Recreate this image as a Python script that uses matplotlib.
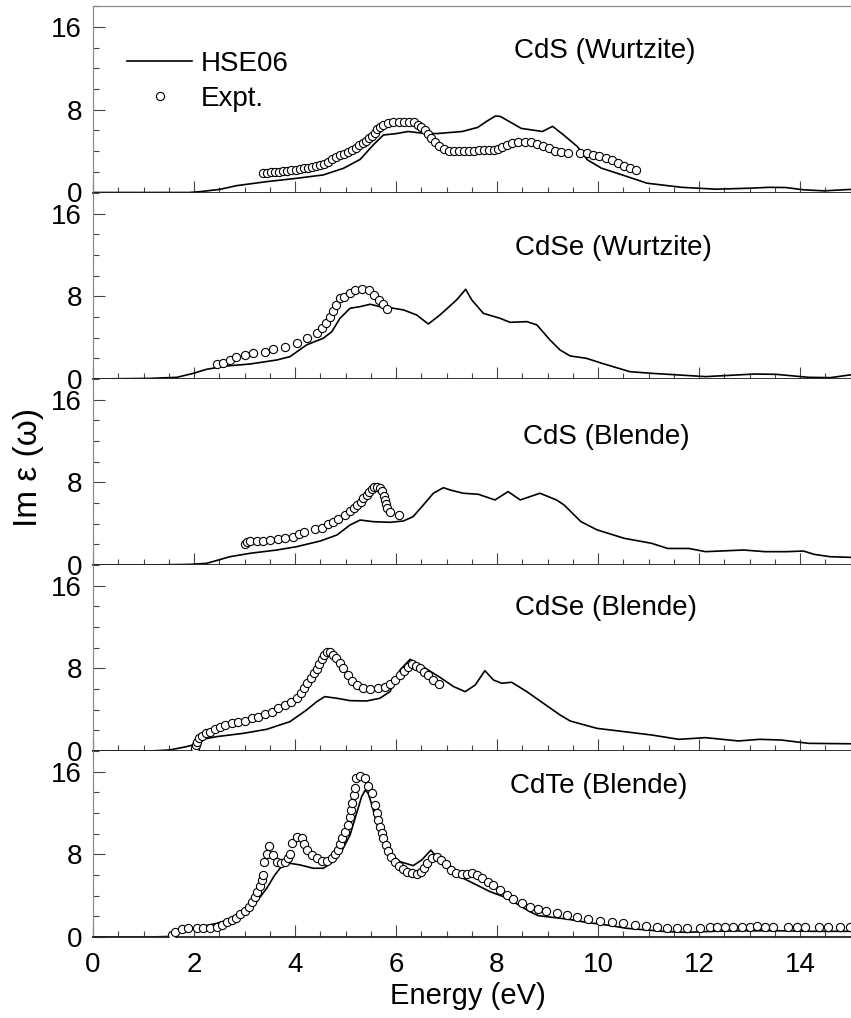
import matplotlib
matplotlib.use("Agg")
import matplotlib.pyplot as plt
from matplotlib.ticker import MultipleLocator

plt.rcParams['font.family'] = ['Liberation Sans', 'DejaVu Sans']

# ---------------- data (energy in eV, Im eps) ----------------
# CdS (Wurtzite)
cds_w_hse_e = [0, 1.9, 2.12, 2.51, 2.84, 3.44, 4.03, 4.56, 4.96, 5.29, 5.55, 5.75, 6.01,
               6.24, 6.41, 6.61, 6.81, 7.31, 7.62, 7.79, 7.97, 8.07, 8.48, 8.9, 9.1, 9.31,
               9.59, 9.79, 10.07, 10.48, 10.97, 11.66, 12.34, 13.03, 13.38, 13.72, 14.07,
               14.48, 15.0]
cds_w_hse_v = [0, 0, 0.08, 0.3, 0.66, 1.05, 1.37, 1.7, 2.34, 3.2, 4.6, 5.56, 5.7,
               5.9, 5.8, 5.7, 5.7, 5.9, 6.3, 6.87, 7.4, 7.35, 6.2, 5.9, 6.4, 5.6,
               4.45, 3.16, 2.35, 1.7, 0.9, 0.5, 0.32, 0.42, 0.5, 0.48, 0.26,
               0.16, 0.3]
cds_w_exp_e = [3.37, 3.45, 3.53, 3.61, 3.69, 3.77, 3.85, 3.93, 4.01, 4.09, 4.17, 4.25, 4.33,
               4.41, 4.49, 4.57, 4.65, 4.73, 4.81, 4.89, 4.97, 5.05, 5.12, 5.2, 5.27, 5.34,
               5.4, 5.46, 5.52, 5.58, 5.63, 5.68, 5.75, 5.85, 5.95, 6.05, 6.15, 6.25, 6.35,
               6.43, 6.5, 6.57, 6.63, 6.7, 6.77, 6.85, 6.95, 7.05, 7.15, 7.25, 7.35, 7.45,
               7.55, 7.65, 7.75, 7.85, 7.95, 8.02, 8.1, 8.2, 8.3, 8.42, 8.55, 8.68, 8.8,
               8.92, 9.03, 9.15, 9.27, 9.4, 9.65, 9.78, 9.9, 10.02, 10.15, 10.28, 10.4,
               10.52, 10.64, 10.76]
cds_w_exp_v = [1.85, 1.9, 1.95, 2.0, 2.03, 2.07, 2.12, 2.17, 2.22, 2.28, 2.34, 2.4, 2.48,
               2.56, 2.66, 2.8, 2.98, 3.2, 3.4, 3.58, 3.72, 3.9, 4.1, 4.35, 4.6, 4.8,
               5.0, 5.3, 5.5, 5.8, 6.1, 6.35, 6.55, 6.7, 6.78, 6.8, 6.8, 6.82, 6.78,
               6.55, 6.3, 6.0, 5.65, 5.25, 4.85, 4.5, 4.2, 4.05, 3.98, 3.97, 3.98, 4.0,
               4.05, 4.1, 4.15, 4.12, 4.08, 4.2, 4.4, 4.6, 4.75, 4.85, 4.9, 4.85, 4.72,
               4.52, 4.3, 4.05, 3.9, 3.82, 3.85, 3.78, 3.65, 3.5, 3.35, 3.1, 2.85,
               2.6, 2.35, 2.15]

# CdSe (Wurtzite)
cdse_w_hse_e = [0, 1.13, 1.66, 1.99, 2.25, 2.65, 3.11, 3.64, 3.9, 4.23, 4.56, 4.73, 4.89,
                5.09, 5.29, 5.49, 5.68, 5.95, 6.15, 6.41, 6.64, 6.87, 7.2, 7.38, 7.5, 7.73,
                8.06, 8.26, 8.59, 8.79, 9.05, 9.25, 9.45, 9.77, 10.09, 10.63, 11.06, 12.13,
                13.1, 13.53, 14.17, 14.6, 15.0]
cdse_w_hse_v = [0, 0.06, 0.16, 0.55, 0.94, 1.26, 1.45, 1.84, 2.16, 3.3, 3.94, 4.58, 5.87,
                6.84, 7.0, 7.23, 7.0, 6.84, 6.68, 6.19, 5.32, 6.19, 7.65, 8.68, 7.65, 6.35,
                5.87, 5.48, 5.55, 5.23, 3.77, 2.8, 2.23, 2.0, 1.5, 0.71, 0.55, 0.23,
                0.48, 0.45, 0.16, 0.13, 0.4]
cdse_w_exp_e = [2.45, 2.58, 2.71, 2.84, 3.01, 3.17, 3.41, 3.57, 3.8, 4.03, 4.23, 4.43, 4.53,
                4.61, 4.69, 4.75, 4.81, 4.89, 4.97, 5.08, 5.19, 5.33, 5.47, 5.56, 5.67,
                5.75, 5.83]
cdse_w_exp_v = [1.45, 1.58, 1.84, 2.1, 2.35, 2.48, 2.65, 2.87, 3.13, 3.45, 3.94, 4.48, 4.94,
                5.45, 6.03, 6.6, 7.16, 7.8, 7.97, 8.29, 8.6, 8.68, 8.6, 8.16, 7.65,
                7.23, 6.74]

# CdS (Blende)
cds_b_hse_e = [0, 1.13, 1.92, 2.25, 2.71, 3.11, 3.64, 4.03, 4.5, 4.83, 5.09, 5.29, 5.55,
               5.88, 6.15, 6.34, 6.54, 6.74, 6.94, 7.07, 7.33, 7.63, 7.96, 8.22, 8.46,
               8.85, 9.18, 9.33, 9.66, 9.98, 10.52, 11.06, 11.38, 11.8, 12.13, 12.88,
               13.31, 13.74, 14.07, 14.28, 14.6, 15.0]
cds_b_hse_v = [0, 0, 0.06, 0.16, 0.8, 1.13, 1.45, 1.77, 2.32, 2.9, 3.87, 4.35, 4.19,
               4.13, 4.26, 4.68, 5.8, 6.94, 7.48, 7.26, 6.94, 6.84, 6.29, 7.1, 6.29,
               6.94, 6.29, 5.8, 4.2, 3.4, 2.58, 2.1, 1.6, 1.6, 1.29, 1.45,
               1.29, 1.29, 1.35, 1.03, 0.8, 0.74]
cds_b_exp_e = [3.0, 3.04, 3.11, 3.24, 3.37, 3.5, 3.67, 3.8, 3.97, 4.07, 4.18, 4.4, 4.53,
               4.66, 4.76, 4.86, 4.99, 5.09, 5.16, 5.22, 5.3, 5.35, 5.42, 5.47, 5.52,
               5.56, 5.62, 5.68, 5.73, 5.77, 5.78, 5.8, 5.83, 5.88, 6.05]
cds_b_exp_v = [2.0, 2.26, 2.32, 2.32, 2.35, 2.42, 2.52, 2.58, 2.74, 2.97, 3.16, 3.45, 3.61,
               3.94, 4.19, 4.45, 4.84, 5.23, 5.48, 5.8, 6.13, 6.45, 6.77, 7.1, 7.35,
               7.55, 7.58, 7.42, 7.16, 6.68, 6.29, 5.87, 5.48, 5.16, 4.84]

# CdSe (Blende)
cdse_b_hse_e = [0, 1.13, 1.52, 1.85, 1.99, 2.02, 2.45, 2.98, 3.44, 3.9, 4.23, 4.43, 4.59,
                4.83, 5.09, 5.42, 5.68, 5.88, 6.08, 6.28, 6.48, 6.74, 6.87, 7.14, 7.37,
                7.57, 7.76, 7.93, 8.09, 8.29, 8.59, 8.92, 9.25, 9.45, 9.98, 10.52, 11.06,
                11.6, 12.13, 12.78, 13.2, 13.63, 14.17, 15.0]
cdse_b_hse_v = [0, 0, 0.1, 0.42, 0.6, 1.0, 1.39, 1.71, 2.1, 2.84, 3.97, 4.77, 5.26,
                5.1, 4.87, 4.84, 5.1, 5.74, 7.84, 8.87, 8.32, 7.52, 7.13, 6.23, 5.74,
                6.39, 7.77, 6.87, 6.55, 6.65, 5.74, 4.61, 3.48, 2.9, 2.19, 1.87, 1.55,
                1.13, 1.29, 0.97, 1.13, 1.06, 0.74, 0.7]
cdse_b_exp_e = [2.02, 2.04, 2.06, 2.09, 2.15, 2.24, 2.32, 2.42, 2.51, 2.61, 2.75, 2.88,
                3.01, 3.14, 3.27, 3.41, 3.54, 3.67, 3.8, 3.93, 4.03, 4.11, 4.18, 4.24,
                4.31, 4.38, 4.43, 4.48, 4.53, 4.57, 4.64, 4.69, 4.75, 4.81, 4.89, 4.96,
                5.04, 5.12, 5.22, 5.35, 5.49, 5.65, 5.78, 5.88, 5.98, 6.07, 6.15, 6.23,
                6.31, 6.4, 6.48, 6.55, 6.64, 6.73, 6.86]
cdse_b_exp_v = [0.3, 0.58, 0.9, 1.23, 1.45, 1.71, 1.87, 2.1, 2.35, 2.52, 2.68, 2.84,
                2.94, 3.16, 3.32, 3.58, 3.81, 4.13, 4.45, 4.77, 5.16, 5.58, 6.06, 6.55,
                7.03, 7.52, 7.94, 8.42, 8.87, 9.29, 9.58, 9.61, 9.29, 8.97, 8.55, 8.0,
                7.35, 6.81, 6.39, 6.13, 6.03, 6.06, 6.23, 6.48, 6.87, 7.35, 7.77, 8.16,
                8.39, 8.23, 8.0, 7.68, 7.35, 6.87, 6.48]

# CdTe (Blende)
cdte_hse_e = [0, 1.13, 1.5, 1.6, 1.8, 2.0, 2.45, 2.78, 3.04, 3.24, 3.44, 3.6, 3.73, 3.9,
              4.1, 4.36, 4.56, 4.76, 4.92, 5.09, 5.22, 5.32, 5.39, 5.45, 5.52, 5.62, 5.75,
              5.88, 6.08, 6.34, 6.51, 6.69, 6.77, 6.93, 7.13, 7.33, 7.6, 7.86, 8.13, 8.32,
              8.65, 8.82, 8.98, 9.38, 9.77, 10.17, 10.57, 10.96, 11.36, 11.76, 12.28,
              12.94, 13.6, 14.26, 15.0]
cdte_hse_v = [0, 0, 0.05, 0.45, 0.7, 0.84, 1.32, 1.81, 2.45, 3.42, 4.71, 6.0, 6.81, 7.13,
              6.97, 6.65, 6.65, 7.29, 8.26, 9.87, 11.97, 13.58, 14.2, 13.9, 12.8, 11.0, 9.23,
              8.1, 7.29, 6.9, 7.45, 8.4, 7.94, 6.97, 6.16, 5.68, 5.03, 4.39, 3.9, 3.42,
              2.45, 2.06, 1.97, 1.74, 1.42, 1.16, 0.84, 0.68, 0.52, 0.45, 0.55,
              0.6, 0.6, 0.55, 0.55]
cdte_exp_e = [1.56, 1.62, 1.76, 1.89, 2.05, 2.18, 2.32, 2.45, 2.55, 2.65, 2.75, 2.84, 2.92,
              3.01, 3.08, 3.14, 3.21, 3.25, 3.31, 3.34, 3.37, 3.39, 3.44, 3.49, 3.56, 3.64,
              3.72, 3.8, 3.87, 3.91, 3.95, 4.03, 4.13, 4.17, 4.23, 4.33, 4.43, 4.53, 4.63,
              4.73, 4.79, 4.86, 4.9, 4.94, 4.99, 5.04, 5.08, 5.11, 5.13, 5.16, 5.18, 5.21,
              5.29, 5.39, 5.45, 5.52, 5.58, 5.62, 5.65, 5.68, 5.72, 5.75, 5.8, 5.85, 5.91,
              5.98, 6.05, 6.13, 6.21, 6.31, 6.41, 6.49, 6.55, 6.62, 6.71, 6.81, 6.9, 6.99,
              7.08, 7.19, 7.3, 7.4, 7.5, 7.6, 7.7, 7.83, 7.93, 8.06, 8.19, 8.32, 8.49,
              8.65, 8.82, 8.98, 9.18, 9.38, 9.58, 9.81, 10.04, 10.27, 10.5, 10.73, 10.96,
              11.16, 11.36, 11.56, 11.76, 12.02, 12.22, 12.35, 12.52, 12.68, 12.85, 13.01,
              13.14, 13.31, 13.47, 13.77, 13.94, 14.1, 14.37, 14.56, 14.79, 14.99]
cdte_exp_v = [0.19, 0.52, 0.77, 0.84, 0.84, 0.84, 0.9, 1.0, 1.16, 1.42, 1.65, 1.87, 2.19,
              2.52, 2.94, 3.42, 3.9, 4.39, 4.94, 5.52, 6.0, 7.23, 8.0, 8.84, 7.94, 7.29,
              7.13, 7.29, 7.61, 8.0, 9.06, 9.71, 9.61, 8.97, 8.42, 7.94, 7.61, 7.35, 7.35,
              7.68, 8.0, 8.42, 8.97, 9.55, 10.13, 10.84, 11.65, 12.29, 12.94, 13.74, 14.39,
              15.42, 15.61, 15.42, 14.65, 13.9, 12.77, 11.97, 11.32, 10.68, 10.03, 9.55,
              8.9, 8.32, 7.77, 7.29, 6.9, 6.58, 6.32, 6.16, 6.1, 6.32, 6.65, 7.13, 7.61,
              7.77, 7.45, 7.03, 6.48, 6.16, 6.06, 6.13, 6.16, 6.0, 5.74, 5.35, 5.03, 4.55,
              4.06, 3.68, 3.26, 2.94, 2.71, 2.55, 2.35, 2.13, 1.9, 1.74, 1.58, 1.48, 1.32,
              1.16, 1.06, 0.94, 0.84, 0.84, 0.84, 0.9, 1.0, 1.0, 0.97, 1.0, 0.97, 1.0,
              1.06, 1.0, 1.0, 1.0, 1.0, 0.94, 0.94, 0.94, 0.94, 0.94]

titles = ["CdS (Wurtzite)", "CdSe (Wurtzite)", "CdS (Blende)", "CdSe (Blende)", "CdTe (Blende)"]
hse_e = [cds_w_hse_e, cdse_w_hse_e, cds_b_hse_e, cdse_b_hse_e, cdte_hse_e]
hse_v = [cds_w_hse_v, cdse_w_hse_v, cds_b_hse_v, cdse_b_hse_v, cdte_hse_v]
exp_e = [cds_w_exp_e, cdse_w_exp_e, cds_b_exp_e, cdse_b_exp_e, cdte_exp_e]
exp_v = [cds_w_exp_v, cdse_w_exp_v, cds_b_exp_v, cdse_b_exp_v, cdte_exp_v]

# ---------------- layout ----------------
W, H = 851, 1018
fig = plt.figure(figsize=(W / 100, H / 100), dpi=100)

x_left, x_right = 93.0, 850.5
zero_rows = [192.5, 379.0, 565.0, 751.0, 937.0]
panel_h = 186.1
title_pos = [(0.675, 0.763), (0.687, 0.706), (0.677, 0.69), (0.677, 0.77), (0.668, 0.81)]

spine_grey = '#8a8a8a'
tick_col = '#444444'

for i in range(5):
    bottom = 1 - zero_rows[i] / H
    ax = fig.add_axes([x_left / W, bottom, (x_right - x_left) / W, panel_h / H])
    ax.set_xlim(0, 15)
    ax.set_ylim(0, 18)

    ax.plot(hse_e[i], hse_v[i], color='black', lw=1.2, zorder=2, label='HSE06')
    ax.plot(exp_e[i], exp_v[i], ls='none', marker='o', ms=5.9, mfc='white',
            mec='black', mew=0.8, zorder=3, label='Expt.')

    ax.xaxis.set_major_locator(MultipleLocator(2))
    ax.xaxis.set_minor_locator(MultipleLocator(0.5))
    ax.yaxis.set_major_locator(MultipleLocator(8))
    ax.yaxis.set_minor_locator(MultipleLocator(2))
    ax.tick_params(which='both', direction='in', top=False, right=False,
                   color=tick_col, width=0.8, labelsize=20)
    ax.tick_params(which='major', length=8.5)
    ax.tick_params(which='minor', length=4.3)
    ax.tick_params(axis='y', pad=8)
    ax.tick_params(axis='x', pad=11)
    if i < 4:
        ax.tick_params(axis='x', labelbottom=False)

    ax.spines['right'].set_visible(False)
    ax.spines['left'].set_color(spine_grey)
    ax.spines['left'].set_linewidth(0.9)
    ax.spines['bottom'].set_color('#222222')
    ax.spines['bottom'].set_linewidth(1.3)
    if i == 0:
        ax.spines['top'].set_color(spine_grey)
        ax.spines['top'].set_linewidth(0.9)
    else:
        ax.spines['top'].set_visible(False)

    ax.text(title_pos[i][0], title_pos[i][1], titles[i], transform=ax.transAxes,
            ha='center', va='center', fontsize=20)

    if i == 0:
        ax.legend(loc='upper left', bbox_to_anchor=(0.045, 0.762), frameon=False,
                  fontsize=20, handlelength=2.35, handletextpad=0.3,
                  labelspacing=0.33, borderpad=0, borderaxespad=0)

fig.text(28 / W, 1 - 467 / H, 'Im \u03b5 (\u03c9)', rotation=90, ha='center',
         va='center', fontsize=24)
fig.text(468 / W, 1 - 996 / H, 'Energy (eV)', ha='center', va='center', fontsize=21)

fig.savefig('out.png', dpi=100)
